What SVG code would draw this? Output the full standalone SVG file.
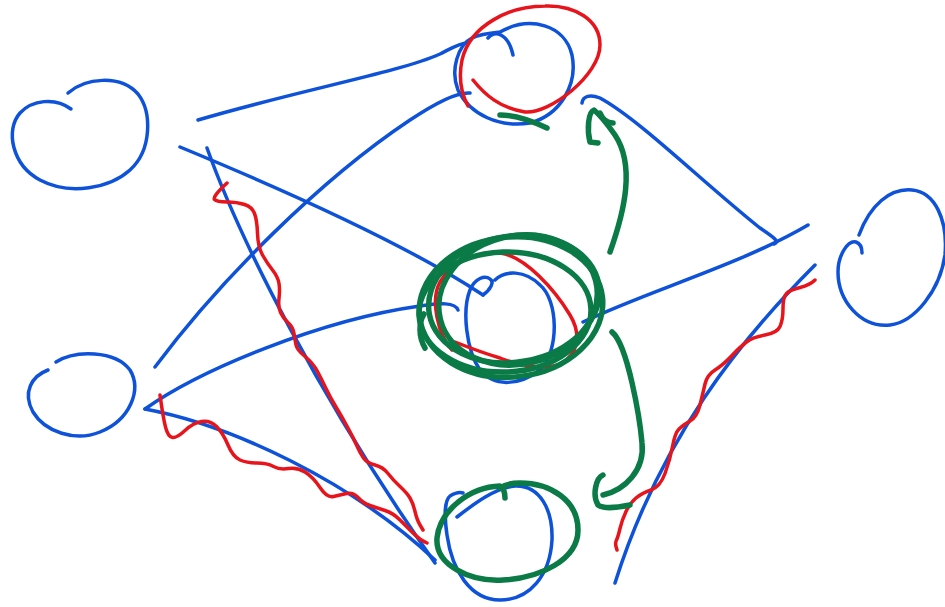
<svg xmlns="http://www.w3.org/2000/svg" width="945" height="607" viewBox="0 0 945 607">
<style>
.b{fill:none;stroke:#0d52d9;stroke-width:3.5;stroke-linecap:round;stroke-linejoin:round}
.r{fill:none;stroke:#e8141b;stroke-width:3.5;stroke-linecap:round;stroke-linejoin:round}
.g{fill:none;stroke:#0a7a46;stroke-width:5.5;stroke-linecap:round;stroke-linejoin:round}
</style>
<rect width="945" height="607" fill="#ffffff"/>
<g id="connectors">
<path class="b" d="M198,120 C300,90 400,72 440,54 C452,48 460,43 467,43"/>
<path class="b" d="M155,367 C220,280 320,180 410,120 C440,100 460,92 470,93"/>
<path class="b" d="M180,147 C260,180 400,240 483,295"/>
<path class="b" d="M207,148 C240,240 320,400 435,563"/>
<path class="b" d="M145,409 C200,370 320,320 420,306 C440,303 455,302 458,310"/>
<path class="b" d="M145,409 C230,425 350,480 435,560"/>
<path class="b" d="M583,322 C650,290 740,265 808,225"/>
<path class="b" d="M582,103 C583,96 590,94 600,98 C640,120 700,180 760,228 C775,238 780,242 774,244"/>
<path class="b" d="M815,265 C740,340 660,440 615,583"/>
</g>
<g id="node-left-top">
<path class="b" d="M68,93 C85,78 120,74 138,94 C152,112 152,150 130,170 C110,188 70,196 40,180 C12,165 5,130 20,113 C32,100 55,97 71,109"/>
</g>
<g id="node-left-bottom">
<path class="b" d="M56,362 C75,350 115,350 130,370 C142,390 130,420 100,432 C75,442 45,432 33,412 C22,392 32,376 48,370"/>
</g>
<g id="node-right">
<path class="b" d="M859,235 C870,205 890,188 912,190 C935,192 948,220 945,255 C940,290 915,322 890,325 C860,328 838,300 838,272 C838,255 848,240 856,242 C862,244 862,250 862,253"/>
</g>
<g id="node-top">
<path class="b" d="M488,38 C495,30 508,33 513,55"/>
<path class="b" d="M500,32 C530,15 565,25 572,55 C578,85 560,115 530,123 C500,128 470,115 458,90 C450,70 458,45 472,38 C480,34 490,33 500,32"/>
<path class="r" d="M473,80 C485,95 500,108 525,112 C550,114 600,75 600,45 C600,20 575,5 545,6 C510,6 470,25 462,60 C458,80 462,95 468,106"/>
<path class="g" d="M500,115 C515,115 530,120 547,128"/>
</g>
<g id="node-center">
<path class="b" d="M483,295 C490,290 495,282 490,279 C485,275 475,278 470,290 C462,310 466,350 480,370 C495,388 520,385 540,370 C560,350 558,300 540,285 C525,270 505,270 495,280"/>
<path class="r" d="M452,350 C438,335 430,300 440,282 C452,262 475,252 500,253 C525,256 555,290 570,315 C582,335 578,355 560,364 C545,370 520,366 500,358 C480,352 465,346 455,342"/>
<ellipse class="g" cx="511" cy="307" rx="92" ry="70" transform="rotate(-6 511 307)"/>
<ellipse class="g" cx="514" cy="299" rx="86" ry="63" transform="rotate(-10 514 299)"/>
<ellipse class="g" cx="505" cy="312" rx="86" ry="60" transform="rotate(-2 505 312)"/>
<ellipse class="g" cx="518" cy="300" rx="80" ry="64" transform="rotate(-14 518 300)"/>
<path class="g" d="M425,348 C418,336 419,322 424,314"/>
</g>
<g id="node-bottom">
<path class="b" d="M457,517 C475,503 495,488 515,486 C540,485 553,510 552,540 C550,575 530,600 500,600 C470,600 452,570 447,535 C444,515 445,500 450,496 C455,493 460,492 463,493"/>
<path class="g" d="M505,498 C505,492 503,487 500,486 C470,487 440,510 437,538 C435,565 470,582 503,580 C540,578 578,560 578,530 C578,500 550,483 520,483 C510,483 503,486 500,488"/>
</g>
<g id="annotations">
<path class="r" d="M227,183 Q212,197 214.5,199.5 Q217,202 227,202 Q237,202 244.5,204.5 Q252,207 254.5,213.5 Q257,220 257.5,233.5 Q258,247 262.5,255 Q267,263 272.5,270 Q278,277 279,283.5 Q280,290 279,298.5 Q278,307 280.5,312.5 Q283,318 288,322.5 Q293,327 294,333.5 Q295,340 296,345 Q297,350 305,356.5 Q313,363 317.5,371.5 Q322,380 326,388.5 Q330,397 336,407 Q342,417 347.5,427 Q353,437 356.5,445 Q360,453 363.5,458 Q367,463 375,465 Q383,467 388,473.5 Q393,480 400,486.5 Q407,493 410,498 Q413,503 415,511.5 Q417,520 420,525 L423,530"/>
<path class="r" d="M160,395 Q163,417 165.5,427 Q168,437 172.5,437.5 Q177,438 185,430.5 Q193,423 201.5,421.5 Q210,420 216.5,426.5 Q223,433 228,445 Q233,457 240,460 Q247,463 257,463 Q267,463 273.5,466.5 Q280,470 288.5,468.5 Q297,467 305,472 Q313,477 320,487.5 Q327,498 333.5,496.5 Q340,495 346.5,493.5 Q353,492 358,497.5 Q363,503 370,505.5 Q377,508 385,510.5 Q393,513 400,520 Q407,527 413.5,533.5 Q420,540 427,543"/>
<path class="r" d="M815,280 Q810,285 800,287.5 Q790,290 786.5,293.5 Q783,297 783,308.5 Q783,320 780,326.5 Q777,333 765,335 Q753,337 746.5,342 Q740,347 731.5,356 Q723,365 715,370 Q707,375 705,384 Q703,393 700,405 Q697,417 690,421 Q683,425 679,429 Q675,433 672.5,446.5 Q670,460 665,473.5 Q660,487 651,490 Q642,493 636,498 Q630,503 626,511.5 Q622,520 620,528.5 Q618,537 616.5,540 Q615,543 616,546.5 L617,550"/>
<path class="g" d="M610,252 C625,210 635,165 615,135 C608,125 600,115 594,110 C588,112 587,130 590,142 L598,143"/>
<path class="g" d="M600,113 C603,120 608,123 613,123"/>
<path class="g" d="M612,332 C628,345 640,420 642,443 C645,470 625,490 603,495"/>
<path class="g" d="M603,475 C596,478 592,495 598,505 C605,510 620,507 630,505"/>
</g>
</svg>
